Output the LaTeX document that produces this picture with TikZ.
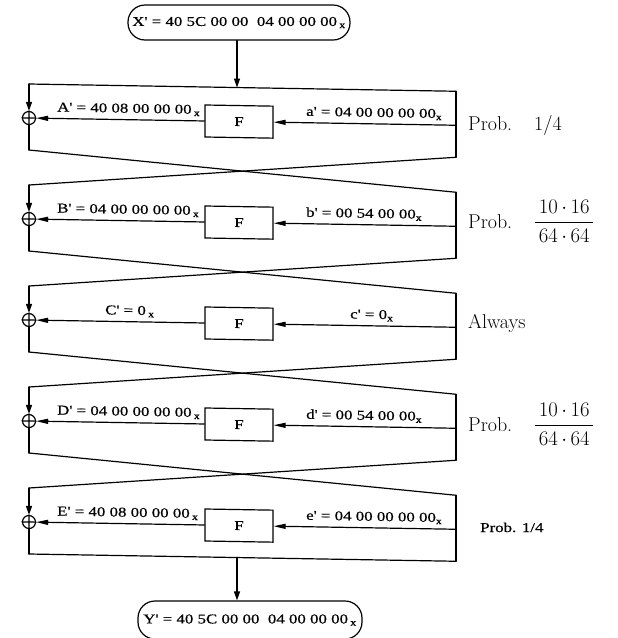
\documentclass[tikz,border=0pt]{standalone}
\usepackage{fontspec}
\usepackage{amsmath}
\usetikzlibrary{arrows.meta}
\newfontfamily\lbl[FakeStretch=1.25,FakeBold=0.6]{Liberation Serif}
\tikzset{
  wire/.style={line width=1.2pt,line cap=round,line join=round},
  harrow/.style={wire,-{Triangle[length=12pt,width=5pt]}},
  varrow/.style={wire,-{Triangle[length=9pt,width=6pt]}},
  fbox/.style={draw,line width=1.2pt,minimum width=68pt,minimum height=32pt,inner sep=0pt,font=\lbl\fontsize{13.5}{16}\selectfont},
  xorn/.style={draw,circle,line width=1.2pt,minimum size=13pt,inner sep=0pt},
  lab/.style={font=\lbl\fontsize{13.5}{16}\selectfont,inner sep=0pt,anchor=base west},
  pill/.style={draw,line width=1.2pt,rounded corners=17pt,minimum height=38pt,inner sep=0pt,font=\lbl\fontsize{13.5}{16}\selectfont},
  prob/.style={font=\fontsize{20}{24}\selectfont,inner sep=0pt,anchor=base west},
}
\begin{document}
\begin{tikzpicture}[x=1pt,y=-1pt]
\useasboundingbox (0,0) rectangle (618,638);
\node[pill,minimum width=222pt,minimum height=35pt] (Xin) at (239,22.5) {X' = 40 5C 00 00 \ 04 00 00 00\,\textsubscript{x}};
\node[pill,minimum width=224pt] (Yout) at (250,620) {Y' = 40 5C 00 00 \ 04 00 00 00\,\textsubscript{x}};
\begin{scope}[cm={1,-0.017,0,1,(0pt,0.49pt)},transform shape]
\foreach \k/\y in {1/118,2/219,3/320,4/421,5/522} {
  \coordinate (TL\k) at (29,\y-34);
  \coordinate (TR\k) at (456,\y-34);
  \coordinate (BL\k) at (29,\y+32);
  \coordinate (BR\k) at (456,\y+32);
  \coordinate (R\k) at (456,\y);
  \node[xorn] (X\k) at (29,\y) {};
  \node[fbox] (F\k) at (239,\y) {F};
  \draw[varrow] (TL\k) -- (X\k.north);
  \draw[wire] (X\k.north) -- (X\k.south) (X\k.west) -- (X\k.east);
  \draw[wire] (X\k.south) -- (BL\k);
  \draw[wire] (TR\k) -- (BR\k);
  \draw[harrow] (R\k) -- (F\k.east);
  \draw[harrow] (F\k.west) -- (X\k.east);
}
\foreach \k/\n in {1/2,2/3,3/4,4/5} {
  \draw[wire] (BL\k) -- (TR\n);
  \draw[wire] (BR\k) -- (TL\n);
}
\draw[wire] (TL1) -- (TR1);
\draw[wire] (BL5) -- (BR5);
\coordinate (IN) at (237,84);
\coordinate (OUT) at (237,554);
\node[lab] (A) at (57,111) {A' = 40 08 00 00 00\,\textsubscript{x}};
\node[lab] (a) at (306,111) {a' = 04 00 00 00 00\textsubscript{x}};
\node[lab] (B) at (57,212) {B' = 04 00 00 00 00\,\textsubscript{x}};
\node[lab] (b) at (306,212) {b' = 00 54 00 00\textsubscript{x}};
\node[lab] (C) at (105,313) {C' = 0\,\textsubscript{x}};
\node[lab] (c) at (350,313) {c' = 0\textsubscript{x}};
\node[lab] (D) at (57,414) {D' = 04 00 00 00 00\,\textsubscript{x}};
\node[lab] (d) at (306,414) {d' = 00 54 00 00\textsubscript{x}};
\node[lab] (E) at (57,515) {E' = 40 08 00 00 00\,\textsubscript{x}};
\node[lab] (e) at (306,515) {e' = 04 00 00 00 00\textsubscript{x}};
\end{scope}
\draw[varrow] (IN |- Xin.south) -- (IN);
\draw[varrow] (OUT) -- (OUT |- Yout.north);
\node[prob] (p1) at (468,130) {Prob.\hspace{22pt}1/4};
\node[prob] (p2) at (468,228) {Prob.\hspace{22pt}$\displaystyle\frac{\,10\,{\cdot}\,16\,}{\,64\,{\cdot}\,64\,}$};
\node[prob] (p3) at (468,328) {Always};
\node[prob] (p4) at (468,431) {Prob.\hspace{22pt}$\displaystyle\frac{\,10\,{\cdot}\,16\,}{\,64\,{\cdot}\,64\,}$};
\node[lab] (p5) at (480,532) {Prob. 1/4};
\end{tikzpicture}
\end{document}
